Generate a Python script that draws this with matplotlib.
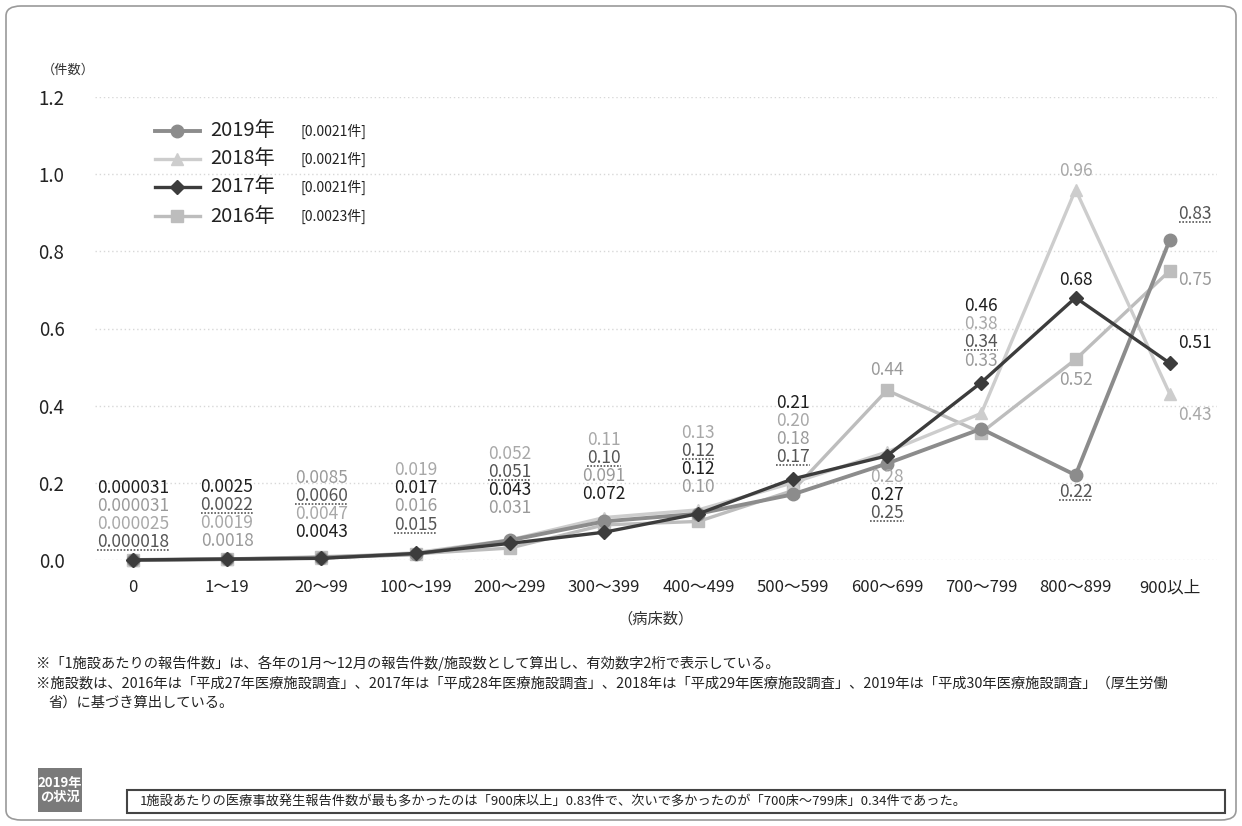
import numpy as np
import matplotlib
matplotlib.use("Agg")
import matplotlib.pyplot as plt
from matplotlib.lines import Line2D
from matplotlib.patches import FancyBboxPatch, Rectangle

plt.rcParams['font.family'] = ['Noto Sans CJK JP', 'DejaVu Sans']

# data
categories = ["0", "1～19", "20～99", "100～199", "200～299", "300～399", "400～499",
              "500～599", "600～699", "700～799", "800～899", "900以上"]
v2019 = [0.000018, 0.0022, 0.0060, 0.015, 0.051, 0.10, 0.12, 0.17, 0.25, 0.34, 0.22, 0.83]
v2018 = [0.000025, 0.0019, 0.0047, 0.019, 0.052, 0.11, 0.13, 0.20, 0.28, 0.38, 0.96, 0.43]
v2017 = [0.000031, 0.0025, 0.0043, 0.017, 0.043, 0.072, 0.12, 0.21, 0.27, 0.46, 0.68, 0.51]
v2016 = [0.000031, 0.0018, 0.0085, 0.016, 0.031, 0.091, 0.10, 0.18, 0.44, 0.33, 0.52, 0.75]
years = ["2019年", "2018年", "2017年", "2016年"]
averages = ["[0.0021件]", "[0.0021件]", "[0.0021件]", "[0.0023件]"]

series = {
    "2019": dict(vals=v2019, color="#8c8c8c", marker="o", ms=9, lw=2.8, tcol="#555555"),
    "2018": dict(vals=v2018, color="#cdcdcd", marker="^", ms=8, lw=2.4, tcol="#a8a8a8"),
    "2017": dict(vals=v2017, color="#3c3c3c", marker="D", ms=7, lw=2.4, tcol="#1e1e1e"),
    "2016": dict(vals=v2016, color="#bdbdbd", marker="s", ms=8, lw=2.4, tcol="#9a9a9a"),
}
draw_order = ["2016", "2018", "2019", "2017"]

# label stacks: category -> list of (series, y position in data units)
step = 0.047
def stack(top, keys):
    return [(k, top - i * step) for i, k in enumerate(keys)]

label_layout = {
    0: stack(0.187, ["2017", "2016", "2018", "2019"]),
    1: stack(0.189, ["2017", "2019", "2018", "2016"]),
    2: stack(0.213, ["2016", "2019", "2018", "2017"]),
    3: stack(0.233, ["2018", "2017", "2016", "2019"]),
    4: stack(0.275, ["2018", "2019", "2017", "2016"]),
    5: stack(0.311, ["2018", "2019", "2016", "2017"]),
    6: stack(0.329, ["2018", "2019", "2017", "2016"]),
    7: stack(0.407, ["2017", "2018", "2016", "2019"]),
    8: [("2016", 0.492)] + stack(0.215, ["2018", "2017", "2019"]),
    9: stack(0.658, ["2017", "2018", "2019", "2016"]),
    10: [("2018", 1.008), ("2017", 0.726), ("2016", 0.467), ("2019", 0.176)],
    11: [("2019", 0.896), ("2016", 0.726), ("2017", 0.562), ("2018", 0.376)],
}

def fmt(v):
    return np.format_float_positional(v, precision=2, unique=False, fractional=False, trim='k')

W, H = 1242, 826
fig = plt.figure(figsize=(W / 100, H / 100), dpi=100)
fig.patch.set_facecolor("white")
ax = fig.add_axes([95 / W, 1 - 560 / H, (1217 - 95) / W, 463 / H])

x = np.arange(len(categories))
for key in draw_order:
    s = series[key]
    ax.plot(x, s["vals"], color=s["color"], lw=s["lw"], marker=s["marker"],
            ms=s["ms"], mec=s["color"], mfc=s["color"], clip_on=False, zorder=3)

ax.set_xlim(-0.4, 11.5)
ax.set_ylim(0, 1.2)
ax.set_yticks(np.arange(0, 1.21, 0.2))
ax.set_yticklabels([f"{t:.1f}" for t in np.arange(0, 1.21, 0.2)], fontsize=13.5, color="#222222")
ax.set_xticks(x)
ax.set_xticklabels(categories, fontsize=12, color="#222222")
ax.tick_params(length=0, axis="y", pad=22)
ax.tick_params(length=0, axis="x", pad=14)
for sp in ax.spines.values():
    sp.set_visible(False)
ax.yaxis.grid(True, color="#d8d8d8", ls=(0, (1, 2)), lw=1)
ax.set_axisbelow(True)

# data labels
texts = []
for ci, items in label_layout.items():
    xpos = ci + 0.27 if ci == 11 else ci
    for key, ypos in items:
        s = series[key]
        t = ax.text(xpos, ypos, fmt(s["vals"][ci]), ha="center", va="center",
                    fontsize=12.5, color=s["tcol"], zorder=5)
        if key == "2019":
            texts.append(t)

fig.text(42 / W, 1 - 70 / H, "（件数）", fontsize=9.5, color="#333333", va="center")
ax.set_xlabel("（病床数）", fontsize=11, color="#333333", labelpad=10)

# legend
rows = [131, 159, 187, 216]
for key, yr, av, yp in zip(["2019", "2018", "2017", "2016"], years, averages, rows):
    s = series[key]
    yf = 1 - yp / H
    fig.add_artist(Line2D([155 / W, 200 / W], [yf, yf], color=s["color"], lw=s["lw"],
                          transform=fig.transFigure))
    fig.add_artist(Line2D([177 / W], [yf], marker=s["marker"], ms=s["ms"], color=s["color"],
                          transform=fig.transFigure))
    fig.text(210 / W, yf, yr, fontsize=14.5, color="#222222", va="center")
    fig.text(300 / W, yf, av, fontsize=10, color="#222222", va="center")

# notes
fig.text(36 / W, 1 - 663 / H,
         "※「1施設あたりの報告件数」は、各年の1月～12月の報告件数/施設数として算出し、有効数字2桁で表示している。",
         fontsize=10.3, color="#222222", va="center")
fig.text(36 / W, 1 - 683 / H,
         "※施設数は、2016年は「平成27年医療施設調査」、2017年は「平成28年医療施設調査」、2018年は「平成29年医療施設調査」、2019年は「平成30年医療施設調査」（厚生労働",
         fontsize=10.3, color="#222222", va="center")
fig.text(48 / W, 1 - 703 / H, "省）に基づき算出している。", fontsize=10.3, color="#222222", va="center")

# bottom summary box
fig.add_artist(Rectangle((38 / W, 1 - 812 / H), 44 / W, 44 / H, transform=fig.transFigure,
                         facecolor="#7a7a7a", edgecolor="none"))
fig.text(60 / W, 1 - 790 / H, "2019年\nの状況", fontsize=9.5, color="white", fontweight="bold",
         ha="center", va="center", linespacing=1.05)
fig.add_artist(Rectangle((127 / W, 1 - 813 / H), (1225 - 127) / W, 23 / H, transform=fig.transFigure,
                         facecolor="white", edgecolor="#444444", lw=1.5))
fig.text(140 / W, 1 - 801.5 / H,
         "1施設あたりの医療事故発生報告件数が最も多かったのは「900床以上」0.83件で、次いで多かったのが「700床～799床」0.34件であった。",
         fontsize=9.5, color="#222222", va="center")

# outer frame
fig.add_artist(FancyBboxPatch((6 / W, 6 / H), (W - 12) / W, (H - 12) / H, transform=fig.transFigure,
                              boxstyle="round,pad=0,rounding_size=0.012", facecolor="none",
                              edgecolor="#9a9a9a", lw=1.2))

# dotted underlines for 2019 labels
fig.canvas.draw()
r = fig.canvas.get_renderer()
for t in texts:
    bb = t.get_window_extent(renderer=r)
    yl = (bb.y0 + 1) / H
    fig.add_artist(Line2D([bb.x0 / W, bb.x1 / W], [yl, yl], color="#555555", lw=1.2,
                          ls=(0, (1, 1)), transform=fig.transFigure))

fig.savefig("out.png", dpi=100)
